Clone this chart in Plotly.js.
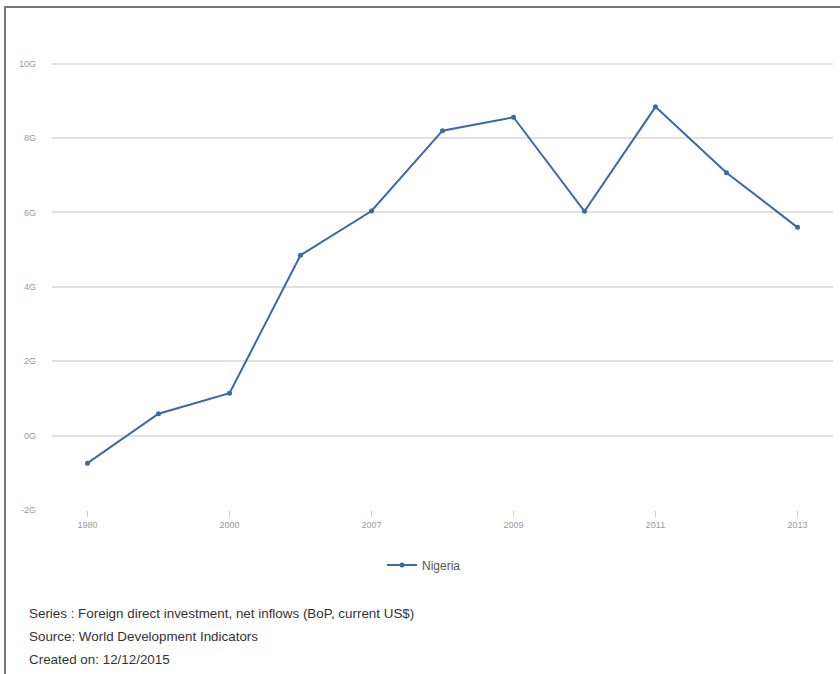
<!DOCTYPE html>
<html>
<head>
<meta charset="utf-8">
<script src="https://cdn.plot.ly/plotly-3.0.1.min.js"></script>
<style>
html,body{margin:0;padding:0;background:#fff;}
#wrap{position:relative;width:840px;height:674px;}
#chart{width:840px;height:674px;}
#frame{position:absolute;left:4px;top:6px;right:0;bottom:0;border-left:2px solid #777;border-top:2px solid #777;pointer-events:none;}
</style>
</head>
<body>
<div id="wrap"><div id="chart"></div><div id="frame"></div></div>
<script>
// Data (values in G = billions of current US$)
const years = ["1980", "1990", "2000", "2006", "2007", "2008", "2009", "2010", "2011", "2012", "2013"];
const fdiNigeria = [-0.74, 0.59, 1.14, 4.85, 6.04, 8.20, 8.56, 6.03, 8.84, 7.07, 5.60];
const xTickShown = ["1980", "2000", "2007", "2009", "2011", "2013"];
const yTickVals = [-2, 0, 2, 4, 6, 8, 10];
const yTickText = ["-2G", "0G", "2G", "4G", "6G", "8G", "10G"];
const seriesName = "Nigeria";
const footerLines = [
  "Series : Foreign direct investment, net inflows (BoP, current US$)",
  "Source: World Development Indicators",
  "Created on: 12/12/2015"
];

const trace = {
  x: years,
  y: fdiNigeria,
  type: "scatter",
  mode: "lines+markers",
  name: seriesName,
  line: {color: "#3c68a8", width: 2},
  marker: {color: "#3c68a8", size: 5},
  hoverinfo: "none"
};

// plot area: top 60, bottom 510 (450 px high)
function py(p) { return (510 - p) / 450; }
const footerPix = [613, 636, 659];
const annotations = footerLines.map((t, i) => ({
  text: t, xref: "paper", yref: "paper", x: (27 - 52) / 781, y: py(footerPix[i]),
  xanchor: "left", yanchor: "middle", showarrow: false,
  font: {family: "Liberation Sans, Arial, sans-serif", size: 13.4, color: "#333"}
}));

const layout = {
  width: 840, height: 674,
  margin: {l: 52, r: 7, t: 60, b: 164},
  paper_bgcolor: "#fff", plot_bgcolor: "#fff",
  showlegend: true,
  legend: {
    orientation: "h", x: (382 - 52) / 781, xanchor: "left", y: py(565), yanchor: "middle",
    font: {family: "Liberation Sans, Arial, sans-serif", size: 12, color: "#555"}
  },
  xaxis: {
    type: "category", categoryorder: "array", categoryarray: years,
    range: [-0.5, years.length - 0.5],
    tickmode: "array", tickvals: xTickShown, ticktext: xTickShown,
    showgrid: false, zeroline: false, showline: false,
    ticks: "outside", ticklen: 6, tickcolor: "#ccc", tickwidth: 1,
    tickfont: {family: "Liberation Sans, Arial, sans-serif", size: 9, color: "#999"}
  },
  yaxis: {
    range: [-2, 10.1],
    tickmode: "array", tickvals: yTickVals, ticktext: yTickText,
    showgrid: true, gridcolor: "#e0e0e0", gridwidth: 2,
    zeroline: false, showline: false, ticks: "",
    ticklabelstandoff: 15,
    tickfont: {family: "Liberation Sans, Arial, sans-serif", size: 9, color: "#999"}
  },
  annotations: annotations
};

Plotly.newPlot("chart", [trace], layout, {displayModeBar: false, staticPlot: true});
</script>
</body>
</html>
